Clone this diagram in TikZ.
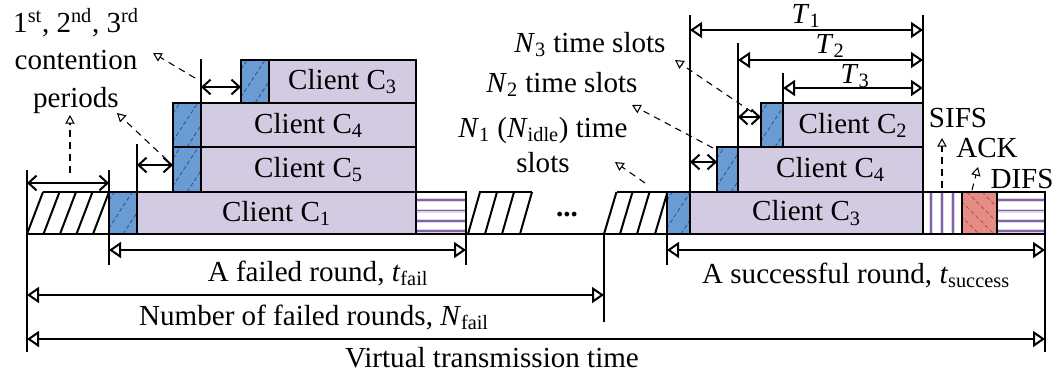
\documentclass[tikz,border=0pt]{standalone}
\usepackage{fontspec}
\setmainfont{Liberation Serif}
\usetikzlibrary{arrows.meta, calc}

\definecolor{pktfill}{RGB}{211,203,225}
\definecolor{slotblue}{RGB}{106,155,210}
\definecolor{slotline}{RGB}{40,80,150}
\definecolor{ackred}{RGB}{226,142,134}
\definecolor{ackline}{RGB}{205,70,70}
\definecolor{stripe}{RGB}{128,100,170}
\definecolor{stripelight}{RGB}{222,214,236}

\tikzset{
  frame/.style={line width=1.5pt},
  pkt/.style={draw, fill=pktfill, line width=1.5pt},
  dimarrow/.style={line width=1.5pt, {Triangle[open,length=9pt,width=12pt]}-{Triangle[open,length=9pt,width=12pt]}},
  gaparrow/.style={line width=1.5pt, {Straight Barb[length=6pt,width=11pt]}-{Straight Barb[length=6pt,width=11pt]}},
  note/.style={line width=0.8pt, dash pattern=on 5pt off 4pt, -{Triangle[open,length=6.5pt,width=7pt]}},
  lbl/.style={inner sep=0pt, anchor=base},
}

\begin{document}
\begin{tikzpicture}[x=0.75pt, y=-0.75pt, font=\fontsize{21.8}{27}\selectfont]
\useasboundingbox (0,0) rectangle (1056,376);

% Idle periods (hatched)
\draw[frame] (43,192) -- (109,192);
\foreach \x in {27,43.5,60,76.5,93} {
  \draw[frame] (\x,234) -- ++(16,-42);
}
\draw[frame] (479,192) -- (532,192);
\foreach \x in {468,485,502,520} {
  \draw[frame] (\x,234) -- ++(12,-42);
}
\draw[frame] (617,192) -- (667,192);
\foreach \x in {604,620,637,655} {
  \draw[frame] (\x,234) -- ++(12.5,-42);
}
\node[lbl] (dots) at (567,216) {\textbf{...}};

% Packets of the failed round
\draw[pkt] (137,192) rectangle (416,234) node[midway] (fC1) {Client C\textsubscript{1}};
\draw[pkt] (201,147) rectangle (416,192) node[midway] (fC5) {Client C\textsubscript{5}};
\draw[pkt] (201,103) rectangle (416,147) node[midway] (fC4) {Client C\textsubscript{4}};
\draw[pkt] (269,60) rectangle (416,103) node[midway] (fC3) {Client C\textsubscript{3}};

% Packets of the successful round
\draw[pkt] (690,192) rectangle (923,234) node[midway] (sC3) {Client C\textsubscript{3}};
\draw[pkt] (738,147) rectangle (923,192) node[midway] (sC4) {Client C\textsubscript{4}};
\draw[pkt] (783,103) rectangle (923,147) node[midway] (sC2) {Client C\textsubscript{2}};

% Contention slots (blue)
\foreach \xa/\ya/\xb/\yb in {109/192/137/234, 173/147/201/192, 173/103/201/147, 241/60/269/103,
    667/192/690/234, 717/147/738/192, 761/103/783/147} {
  \begin{scope}
    \clip (\xa,\ya) rectangle (\xb,\yb);
    \fill[slotblue] (\xa,\ya) rectangle (\xb,\yb);
    \foreach \k in {-40,-22,...,30} {
      \draw[slotline, dash pattern=on 3pt off 2pt, line width=0.6pt] (\xa+\k,\yb) -- ++(30,-46);
    }
  \end{scope}
  \draw[frame] (\xa,\ya) rectangle (\xb,\yb);
}

% DIFS after the failed round
\fill[white] (416,192) rectangle (466,234);
\foreach \y in {200,210.5,221,231} {
  \draw[stripelight, line width=3pt] (416,\y) -- (466,\y);
  \draw[stripe, line width=1pt] (416,\y) -- (466,\y);
}
\draw[frame] (416,192) rectangle (466,234);

% SIFS, ACK, DIFS after the successful round
\fill[white] (923,192) rectangle (962,234);
\foreach \x in {931,942,953} {
  \draw[stripelight, line width=3pt] (\x,192) -- (\x,234);
  \draw[stripe, line width=1pt] (\x,192) -- (\x,234);
}
\begin{scope}
  \clip (962,192) rectangle (997,234);
  \fill[ackred] (962,192) rectangle (997,234);
  \foreach \k in {-40,-25,...,35} {
    \draw[ackline, dash pattern=on 3pt off 2pt, line width=0.6pt] (962+\k,192) -- ++(42,42);
  }
\end{scope}
\fill[white] (997,192) rectangle (1045,234);
\foreach \y in {200,210.5,221,231} {
  \draw[stripelight, line width=3pt] (997,\y) -- (1045,\y);
  \draw[stripe, line width=1pt] (997,\y) -- (1045,\y);
}
\draw[frame] (923,192) rectangle (962,234);
\draw[frame] (962,192) rectangle (997,234);
\draw[frame] (997,192) rectangle (1045,234);

% Time axis and markers
\draw[frame] (27,234) -- (1045,234);
\draw[frame] (27,170) -- (27,352);
\draw[frame] (109,170) -- (109,192);
\draw[frame] (109,234) -- (109,265);
\draw[frame] (137,144) -- (137,192);
\draw[frame] (201,59) -- (201,103);
\draw[frame] (466,234) -- (466,265);
\draw[frame] (604,234) -- (604,322);
\draw[frame] (667,234) -- (667,265);
\draw[frame] (690,15) -- (690,192);
\draw[frame] (738,43) -- (738,147);
\draw[frame] (783,73) -- (783,103);
\draw[frame] (923,15) -- (923,103);
\draw[frame] (1045,234) -- (1045,352);

% Contention periods
\draw[gaparrow] (27,183) -- (109,183);
\draw[gaparrow] (137,165) -- (173,165);
\draw[gaparrow] (201,87) -- (241,87);
\draw[gaparrow] (690,162) -- (717,162);
\draw[gaparrow] (738,117) -- (761,117);

% Durations
\draw[dimarrow] (690,30) -- (923,30);
\draw[dimarrow] (738,60) -- (923,60);
\draw[dimarrow] (783,88) -- (923,88);
\draw[dimarrow] (109,250) -- (466,250);
\draw[dimarrow] (667,250) -- (1045,250);
\draw[dimarrow] (27,295) -- (604,295);
\draw[dimarrow] (27,339) -- (1045,339);

\node[lbl] (T1) at (806,23) {\textit{T}\textsubscript{1}};
\node[lbl] (T2) at (830,53) {\textit{T}\textsubscript{2}};
\node[lbl] (T3) at (855,83) {\textit{T}\textsubscript{3}};

\node[lbl] (failed) at (318,281) {A failed round, \textit{t}\textsubscript{fail}};
\node[lbl] (success) at (856,283) {A successful round, \textit{t}\textsubscript{success}};
\node[lbl] (nfail) at (314,325) {Number of failed rounds, \textit{N}\textsubscript{fail}};
\node[lbl] (virtual) at (492,367) {Virtual transmission time};

% Labels with pointers
\node[lbl, align=center] (cplabel) at (76,107) {1\textsuperscript{st}, 2\textsuperscript{nd}, 3\textsuperscript{rd}\\[1pt] contention\\[1pt] periods};
\node[lbl] (n3label) at (590,52) {\textit{N}\textsubscript{3} time slots};
\node[lbl] (n2label) at (562,92) {\textit{N}\textsubscript{2} time slots};
\node[lbl, align=center] (n1label) at (543,172) {\textit{N}\textsubscript{1} (\textit{N}\textsubscript{idle}) time\\[-1pt] slots};
\node[lbl] (sifs) at (958,127) {SIFS};
\node[lbl] (ack) at (987,157) {ACK};
\node[lbl] (difs) at (1022,188) {DIFS};

\draw[note] (70,173) -- (70,115);
\draw[note] (167,160) -- (117,113);
\draw[note] (195,78) -- (153,53);
\draw[note] (645,183) -- (615,162);
\draw[note] (713,148) -- (632,105);
\draw[note] (752,112) -- (675,60);
\draw[note] (942,188) -- (942,138);
\draw[note] (972,190) -- (978,167);
\end{tikzpicture}
\end{document}
